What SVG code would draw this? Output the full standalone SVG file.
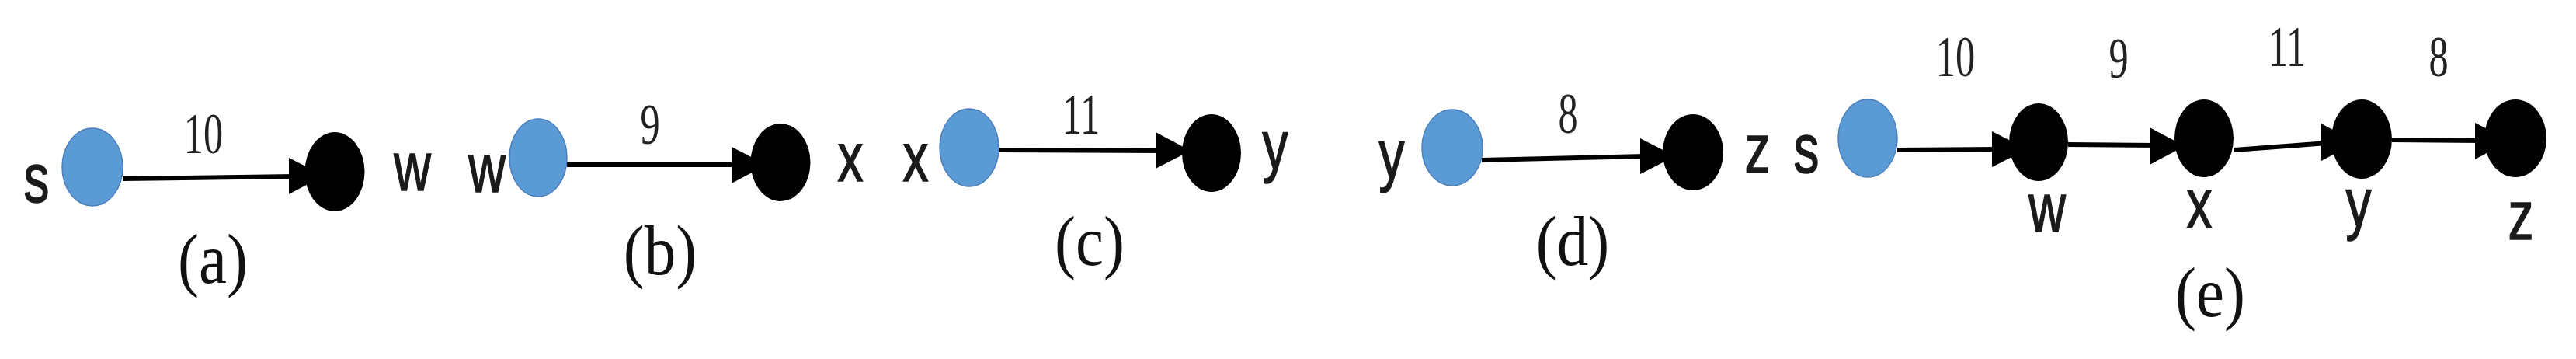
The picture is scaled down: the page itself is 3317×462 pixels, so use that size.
<svg xmlns="http://www.w3.org/2000/svg" width="3317" height="462" viewBox="0 0 3317 462">
<style>
.src{fill:#5B9BD5;stroke:#4A7EBB;stroke-width:1.5}
.dst{fill:#000}
.edge{stroke:#000;stroke-width:6;fill:none}
.head{fill:#000}
.lbl{font-family:"Liberation Sans",Arial,sans-serif;font-size:88px;fill:#1a1a1a;stroke:#1a1a1a;stroke-width:1.5;text-anchor:middle}
.num{font-family:"Liberation Serif","Times New Roman",serif;font-size:74px;fill:#222;text-anchor:middle}
.cap{font-family:"Liberation Serif","Times New Roman",serif;font-size:90px;fill:#111;text-anchor:middle}
</style>
<rect width="3317" height="462" fill="#fff"/>
<g id="connectors">
  <line class="edge" x1="158" y1="230" x2="380" y2="227"/>
  <polygon class="head" points="372,203 417,226 372,250"/>
  <line class="edge" x1="730" y1="212" x2="950" y2="212"/>
  <polygon class="head" points="942,189 987,212 942,236"/>
  <line class="edge" x1="1286" y1="193" x2="1496" y2="194"/>
  <polygon class="head" points="1488,170 1533,194 1488,217"/>
  <line class="edge" x1="1908" y1="206" x2="2119" y2="201"/>
  <polygon class="head" points="2112,178 2157,201 2112,224"/>
  <line class="edge" x1="2443" y1="193" x2="2573" y2="192"/>
  <polygon class="head" points="2565,169 2610,192 2565,215"/>
  <line class="edge" x1="2663" y1="186" x2="2776" y2="187"/>
  <polygon class="head" points="2768,164 2813,188 2768,212"/>
  <line class="edge" x1="2877" y1="193" x2="2997" y2="184"/>
  <polygon class="head" points="2989,159 3034,183 2989,207"/>
  <line class="edge" x1="3080" y1="180" x2="3195" y2="181"/>
  <polygon class="head" points="3187,158 3232,181 3187,205"/>
</g>
<g id="edge-labels">
  <text class="num" transform="translate(262,197) scale(0.68,1)">10</text>
  <text class="num" transform="translate(837,185) scale(0.68,1)">9</text>
  <text class="num" transform="translate(1392,172) scale(0.68,1)">11</text>
  <text class="num" transform="translate(2019,171) scale(0.68,1)">8</text>
  <text class="num" transform="translate(2518,98) scale(0.68,1)">10</text>
  <text class="num" transform="translate(2728,100) scale(0.68,1)">9</text>
  <text class="num" transform="translate(2945,85) scale(0.68,1)">11</text>
  <text class="num" transform="translate(3140,98) scale(0.68,1)">8</text>
</g>
<g id="a-s"><ellipse class="src" cx="119" cy="215" rx="39" ry="50"/><text class="lbl" transform="translate(47,260) scale(0.75,1)">s</text></g>
<g id="a-w"><ellipse class="dst" cx="431" cy="221" rx="38.5" ry="51"/><text class="lbl" transform="translate(531,245) scale(0.75,1)">w</text></g>
<g id="b-w"><ellipse class="src" cx="693" cy="203" rx="37" ry="50"/><text class="lbl" transform="translate(627,247) scale(0.75,1)">w</text></g>
<g id="b-x"><ellipse class="dst" cx="1005" cy="209" rx="38.5" ry="50"/><text class="lbl" transform="translate(1095,233) scale(0.75,1)">x</text></g>
<g id="c-x"><ellipse class="src" cx="1248" cy="190" rx="38" ry="50"/><text class="lbl" transform="translate(1179,233) scale(0.75,1)">x</text></g>
<g id="c-y"><ellipse class="dst" cx="1560" cy="197" rx="38" ry="50"/><text class="lbl" transform="translate(1642,217) scale(0.75,1)">y</text></g>
<g id="d-y"><ellipse class="src" cx="1870" cy="190" rx="39" ry="49"/><text class="lbl" transform="translate(1792,229) scale(0.75,1)">y</text></g>
<g id="d-z"><ellipse class="dst" cx="2180" cy="196" rx="39" ry="49"/><text class="lbl" transform="translate(2263,222) scale(0.75,1)">z</text></g>
<g id="e-s"><ellipse class="src" cx="2405" cy="178" rx="38" ry="50"/><text class="lbl" transform="translate(2326,222) scale(0.75,1)">s</text></g>
<g id="e-w"><ellipse class="dst" cx="2625" cy="183" rx="38" ry="50"/><text class="lbl" transform="translate(2636,298) scale(0.75,1)">w</text></g>
<g id="e-x"><ellipse class="dst" cx="2838" cy="178" rx="38" ry="50"/><text class="lbl" transform="translate(2832,293) scale(0.75,1)">x</text></g>
<g id="e-y"><ellipse class="dst" cx="3041" cy="179" rx="39" ry="51"/><text class="lbl" transform="translate(3037,291) scale(0.75,1)">y</text></g>
<g id="e-z"><ellipse class="dst" cx="3239" cy="178" rx="40" ry="50"/><text class="lbl" transform="translate(3246,308) scale(0.75,1)">z</text></g>
<g id="captions">
  <text class="cap" transform="translate(274,364) scale(0.9,1)">(a)</text>
  <text class="cap" transform="translate(850,353) scale(0.9,1)">(b)</text>
  <text class="cap" transform="translate(1403,341) scale(0.9,1)">(c)</text>
  <text class="cap" transform="translate(2025,341) scale(0.9,1)">(d)</text>
  <text class="cap" transform="translate(2846,407) scale(0.9,1)">(e)</text>
</g>
</svg>
